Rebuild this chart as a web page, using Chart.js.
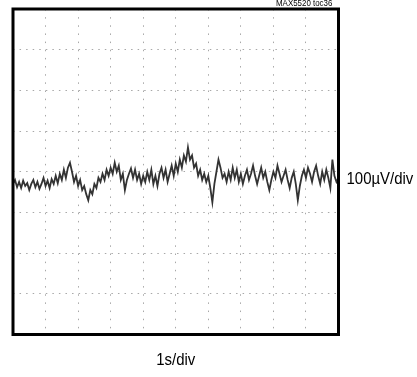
<!DOCTYPE html>
<html>
<head>
<meta charset="utf-8">
<script src="https://cdn.jsdelivr.net/npm/chart.js@4"></script>
<style>
  body { margin: 0; background: #fff; }
  #wrap { width: 417px; height: 377px; }
</style>
</head>
<body>
<div id="wrap"><canvas id="scope"></canvas></div>
<script>
// 10 divisions of 1s, 8 divisions of 100uV
var xDivs = 10;
var yDivs = 8;
var step = 0.0625; // seconds between samples
// trace in uV
var noise = [
  -30, -20, -38, -25, -40, -22, -35, -28, -45, -30,
  -20, -38, -25, -42, -30, -15, -35, -22, -40, -18,
  -30, -10, -28, -5, -20, 5, -15, 10, 22, 0,
  -25, -10, -35, -20, -45, -35, -55, -70, -45, -55,
  -30, -40, -15, -25, -5, -20, 5, -10, 10, -5,
  22, 0, 15, -20, -5, -45, -20, -5, 8, -15,
  5, -20, -5, -30, -10, -25, 0, -20, 5, -30,
  -10, -35, -5, 10, -15, 5, -25, -5, 15, -10,
  20, 0, 30, 10, 40, 25, 60, 30, 40, 10,
  20, -10, 5, -20, -5, -25, -10, -40, -75, -30,
  0, 30, 10, -15, -5, -25, 0, -20, 10, -15,
  5, -25, -5, -30, -10, 5, -20, -5, 15, -10,
  -30, -10, 10, -15, 0, -25, -45, -20, 0, -15,
  15, -5, -25, -10, 5, -20, -40, -15, 0, -30,
  -70, -35, -10, 5, -15, 10, -5, -25, 0, 15,
  -10, -30, 0, -20, 5, -15, -40, 30, -10, -25,
  -15
];
var xLabel = '1s/div';
var yLabel = '100\u00b5V/div';
var partNo = 'MAX5520 toc36';

var points = noise.map(function (v, i) { return { x: i * step, y: v }; });

function narrowText(c, txt, x, y, align) {
  // condensed look like the printed datasheet font
  var w = c.measureText(txt).width * 0.88;
  var left = align === 'center' ? x - w / 2 : x;
  c.save();
  c.translate(left, y);
  c.scale(0.88, 1);
  c.textAlign = 'left';
  c.fillText(txt, 0, 0);
  c.restore();
}

var scopeText = {
  id: 'scopeText',
  afterDraw: function (chart) {
    var c = chart.ctx, a = chart.chartArea;
    c.save();
    c.strokeStyle = '#000';
    c.lineWidth = 3;
    c.strokeRect(a.left, a.top, a.right - a.left, a.bottom - a.top);
    c.fillStyle = '#000';
    c.font = '17px "Liberation Sans", Arial, sans-serif';
    c.textBaseline = 'middle';
    narrowText(c, xLabel, (a.left + a.right) / 2, 360, 'center');
    narrowText(c, yLabel, a.right + 8, chart.scales.y.getPixelForValue(-18), 'left');
    c.font = '9px "Liberation Sans", Arial, sans-serif';
    c.textBaseline = 'alphabetic';
    narrowText(c, partNo, 276, 6, 'left');
    c.restore();
  }
};

var ctx = document.getElementById('scope').getContext('2d');
var myChart = new Chart(ctx, {
  type: 'line',
  data: {
    datasets: [{
      data: points,
      borderColor: '#333333',
      borderWidth: 1.8,
      pointRadius: 0,
      tension: 0
    }]
  },
  options: {
    responsive: true,
    maintainAspectRatio: false,
    animation: false,
    layout: { padding: { left: 13, top: 9, right: 78.5, bottom: 42.5 } },
    plugins: { legend: { display: false }, tooltip: { enabled: false } },
    scales: {
      x: {
        type: 'linear',
        min: 0,
        max: xDivs,
        ticks: { display: false },
        border: { display: false, dash: [1.5, 6.65] },
        grid: { color: '#a8a8a8', lineWidth: 1, drawTicks: false },
        afterBuildTicks: function (s) { s.ticks = []; for (var i = 0; i <= xDivs; i++) s.ticks.push({ value: i }); }
      },
      y: {
        min: -400,
        max: 400,
        ticks: { display: false },
        border: { display: false, dash: [1.5, 5.06] },
        grid: { color: '#a8a8a8', lineWidth: 1, drawTicks: false },
        afterBuildTicks: function (s) { s.ticks = []; for (var i = 0; i <= yDivs; i++) s.ticks.push({ value: -400 + i * 100 }); }
      }
    }
  },
  plugins: [scopeText]
});
</script>
</body>
</html>
